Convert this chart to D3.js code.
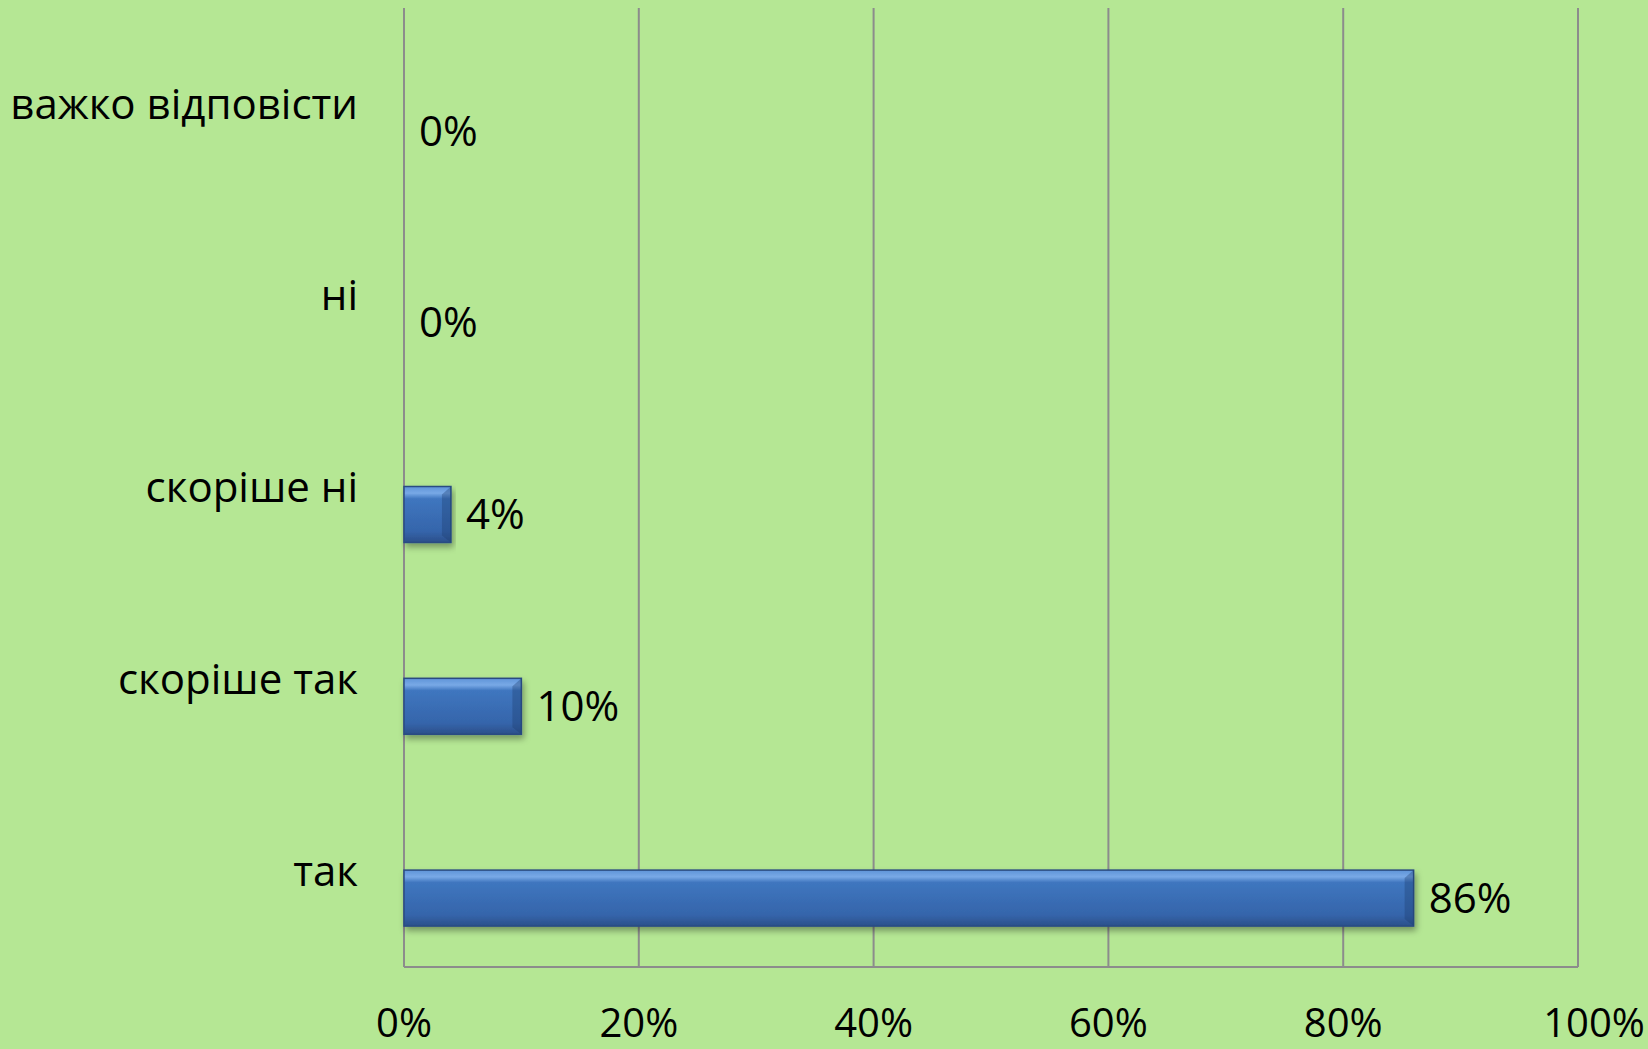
<!DOCTYPE html>
<html>
<head>
<meta charset="utf-8">
<script src="https://cdn.jsdelivr.net/npm/d3@7"></script>
<style>
 body{margin:0;background:#b5e794}
 text{font-family:"Open Sans","Noto Sans",sans-serif;fill:#000}
</style>
</head>
<body>
<script>
var categories=["важко відповісти","ні","скоріше ні","скоріше так","так"]
var values=[0,0,4,10,86]
var ticks=[0,20,40,60,80,100]

var width=1648, height=1049
var plotLeft=404, plotRight=1578, plotTop=8, plotBottom=967

var svg=d3.select("body").append("svg")
	.attr("width",width)
	.attr("height",height)

var defs=svg.append("defs")
var grad=defs.append("linearGradient").attr("id","barv")
	.attr("x1",0).attr("y1",0).attr("x2",0).attr("y2",1)
grad.append("stop").attr("offset","0%").attr("stop-color","#5f94d8")
grad.append("stop").attr("offset","12%").attr("stop-color","#78a9e6")
grad.append("stop").attr("offset","22%").attr("stop-color","#3f76bf")
grad.append("stop").attr("offset","80%").attr("stop-color","#3565ab")
grad.append("stop").attr("offset","100%").attr("stop-color","#2b4f8a")
var flt=defs.append("filter").attr("id","shadow").attr("x","-5%").attr("y","-20%").attr("width","115%").attr("height","160%")
flt.append("feDropShadow").attr("dx",2).attr("dy",4).attr("stdDeviation",3)
	.attr("flood-color","#000").attr("flood-opacity",0.35)

var x=d3.scaleLinear().domain([0,100]).range([plotLeft,plotRight])
var y=d3.scaleBand().domain(categories).range([plotTop,plotBottom])

// grid
svg.append("g").selectAll("line").data(ticks).enter().append("line")
	.attr("x1",function(d){return x(d)}).attr("x2",function(d){return x(d)})
	.attr("y1",plotTop).attr("y2",plotBottom)
	.attr("stroke","#8c8c8c").attr("stroke-width",2)
svg.append("line")
	.attr("x1",plotLeft).attr("x2",plotRight).attr("y1",plotBottom).attr("y2",plotBottom)
	.attr("stroke","#8c8c8c").attr("stroke-width",2)

// tick labels (last one pushed right like the original)
svg.append("g").selectAll("text").data(ticks).enter().append("text")
	.attr("x",function(d){return x(d)+(d==100?16:0)})
	.attr("y",1037)
	.attr("text-anchor","middle")
	.style("font-size","40px")
	.text(function(d){return d+"%"})

// category labels
svg.append("g").selectAll("text").data(categories).enter().append("text")
	.attr("x",358)
	.attr("y",function(d){return y(d)+y.bandwidth()/2})
	.attr("dy","0.35em")
	.attr("text-anchor","end")
	.style("font-size","42px")
	.text(function(d){return d})

var barH=56
var bars=svg.append("g").selectAll("g").data(values).enter().append("g")
	.attr("transform",function(d,i){return "translate(0,"+(y(categories[i])+y.bandwidth()/2-1)+")"})

bars.filter(function(d){return d>0}).append("rect")
	.attr("x",x(0)).attr("y",0)
	.attr("width",function(d){return x(d)-x(0)})
	.attr("height",barH)
	.attr("fill","url(#barv)")
	.attr("stroke","#2a4c82").attr("stroke-width",1.5)
	.attr("filter","url(#shadow)")
// bevel on the right end
bars.filter(function(d){return d>0}).append("path")
	.attr("d",function(d){
		var xe=x(d)
		return "M"+(xe-9)+",8 L"+xe+",0 L"+xe+","+barH+" L"+(xe-9)+","+(barH-7)+" Z"})
	.attr("fill","#1e3c6e").attr("opacity",0.35)

// value labels
bars.append("text")
	.attr("x",function(d){return x(d)+15})
	.attr("y",barH/2)
	.attr("dy","0.35em")
	.style("font-size","42px")
	.text(function(d){return d+"%"})
</script>
</body>
</html>
